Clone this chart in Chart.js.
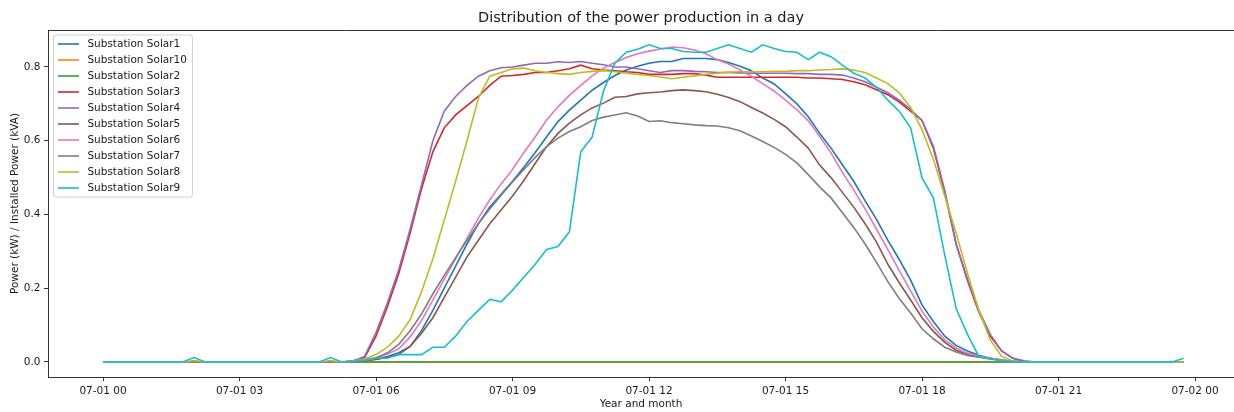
<!DOCTYPE html>
<html><head><meta charset="utf-8">
<script src="https://cdn.jsdelivr.net/npm/chart.js@4.4.1/dist/chart.umd.min.js"></script>
<style>html,body{margin:0;padding:0;background:#fff}#wrap{width:1234px;height:412px}</style>
</head><body><div id="wrap"><canvas id="c" width="1234" height="412"></canvas></div>
<script>
const seriesNames = ["Substation Solar1","Substation Solar10","Substation Solar2","Substation Solar3","Substation Solar4","Substation Solar5","Substation Solar6","Substation Solar7","Substation Solar8","Substation Solar9"];
const seriesColors = ["#1f77b4","#ff7f0e","#2ca02c","#d62728","#9467bd","#8c564b","#e377c2","#7f7f7f","#bcbd22","#17becf"];
// 15-minute slots of 2023-07-01, in hours since midnight
const slotHours = Array.from({length:96},(_,i)=>i*0.25);
const xTickHours = [0,3,6,9,12,15,18,21,24];
const yTickValues = [0,0.2,0.4,0.6,0.8];

const solar1 = [0,0,0,0,0,0,0,0,0,0,0,0,0,0,0,0,0,0,0,0,0,
0,0.001,0.004,0.008,0.015,0.025,0.042,0.085,0.14,0.2,
0.26,0.32,0.375,0.42,0.455,0.49,0.528,0.568,0.611,0.652,
0.683,0.71,0.737,0.758,0.777,0.792,0.802,0.81,0.815,0.815,
0.823,0.823,0.823,0.82,0.812,0.802,0.79,0.77,0.754,0.728,
0.7,0.665,0.62,0.58,0.535,0.49,0.437,0.387,0.33,0.278,
0.222,0.155,0.11,0.07,0.045,0.03,0.018,0.01,0.005,0.001,
0,0,
0,0,0,0,0,0,0,0,0,0,0,0,0];
const solar10 = [0,0,0,0,0,0,0,0,0,0,0,0,0,0,0,0,0,0,0,0,0,0,0,0,0,0,0,0,0,0,0,0,0,0,0,0,0,0,0,0,0,0,0,0,0,0,0,0,
0,0,0,0,0,0,0,0,0,0,0,0,0,0,0,0,0,0,0,0,0,0,0,0,0,0,0,0,0,0,0,0,0,0,0,0,0,0,0,0,0,0,0,0,0,0,0,0];
const solar2 = [0,0,0,0,0,0,0,0,0,0,0,0,0,0,0,0,0,0,0,0,0,0,0,0,0,0,0,0,0,0,0,0,0,0,0,0,0,0,0,0,0,0,0,0,0,0,0,0,
0,0,0,0,0,0,0,0,0,0,0,0,0,0,0,0,0,0,0,0,0,0,0,0,0,0,0,0,0,0,0,0,0,0,0,0,0,0,0,0,0,0,0,0,0,0,0,0];
const solar3 = [0,0,0,0,0,0,0,0,0,0,0,0,0,0,0,0,0,0,0,0,0,
0,0.003,0.012,0.07,0.15,0.24,0.35,0.47,0.57,0.635,
0.67,0.695,0.72,0.75,0.775,0.777,0.78,0.785,0.785,0.79,
0.795,0.805,0.795,0.792,0.79,0.787,0.785,0.78,0.78,0.78,
0.782,0.782,0.778,0.772,0.772,0.772,0.772,0.772,0.772,0.772,
0.772,0.77,0.77,0.768,0.766,0.76,0.752,0.738,0.725,0.705,
0.68,0.655,0.58,0.46,0.32,0.22,0.135,0.07,0.03,0.01,
0,0,
0,0,0,0,0,0,0,0,0,0,0,0,0];
const solar4 = [0,0,0,0,0,0,0,0,0,0,0,0,0,0,0,0,0,0,0,0,0,
0,0.003,0.015,0.08,0.16,0.25,0.36,0.48,0.6,0.68,
0.72,0.75,0.775,0.79,0.798,0.8,0.805,0.81,0.81,0.814,
0.812,0.815,0.81,0.806,0.8,0.8,0.795,0.79,0.785,0.79,
0.79,0.788,0.787,0.785,0.785,0.784,0.783,0.783,0.783,0.783,
0.782,0.782,0.78,0.78,0.778,0.77,0.76,0.745,0.73,0.71,
0.685,0.655,0.585,0.465,0.32,0.225,0.14,0.075,0.03,0.01,
0.003,0,
0,0,0,0,0,0,0,0,0,0,0,0,0];
const solar5 = [0,0,0,0,0,0,0,0,0,0,0,0,0,0,0,0,0,0,0,0,0,
0,0.001,0.003,0.007,0.012,0.02,0.042,0.078,0.12,0.175,
0.23,0.285,0.33,0.375,0.412,0.45,0.492,0.539,0.584,0.62,
0.648,0.67,0.689,0.702,0.718,0.72,0.727,0.73,0.732,0.736,
0.738,0.736,0.733,0.726,0.717,0.706,0.69,0.675,0.658,0.638,
0.61,0.58,0.534,0.5,0.46,0.42,0.375,0.325,0.265,0.215,
0.168,0.12,0.083,0.053,0.032,0.02,0.014,0.01,0.005,0.001,
0,0,
0,0,0,0,0,0,0,0,0,0,0,0,0];
const solar6 = [0,0,0,0,0,0,0,0,0,0,0,0,0,0,0,0,0,0,0,0,0,
0,0.002,0.006,0.012,0.022,0.036,0.068,0.112,0.168,0.225,
0.28,0.335,0.39,0.44,0.483,0.522,0.568,0.611,0.656,0.692,
0.723,0.75,0.776,0.797,0.812,0.826,0.836,0.843,0.849,0.854,
0.852,0.846,0.836,0.82,0.808,0.792,0.775,0.755,0.735,0.71,
0.684,0.654,0.612,0.567,0.514,0.466,0.415,0.36,0.305,0.248,
0.193,0.138,0.095,0.06,0.038,0.024,0.016,0.01,0.005,0.001,
0,0,
0,0,0,0,0,0,0,0,0,0,0,0,0];
const solar7 = [0,0,0,0,0,0,0,0,0,0,0,0,0,0,0,0,0,0,0,0,0,
0,0.001,0.004,0.01,0.025,0.048,0.085,0.13,0.185,0.235,
0.283,0.33,0.375,0.415,0.452,0.488,0.522,0.555,0.584,0.607,
0.625,0.638,0.655,0.664,0.67,0.676,0.667,0.652,0.654,0.649,
0.646,0.643,0.641,0.64,0.635,0.627,0.613,0.598,0.582,0.563,
0.54,0.508,0.475,0.445,0.405,0.365,0.32,0.27,0.218,0.172,
0.133,0.09,0.063,0.04,0.027,0.018,0.013,0.008,0.004,0.001,
0,0,
0,0,0,0,0,0,0,0,0,0,0,0,0];
const solar8 = [0,0,0,0,0,0,0,0,0.004,0,0,0,0,0,0,0,0,0,0,0,0.004,
0,0.002,0.008,0.02,0.04,0.07,0.115,0.19,0.28,0.385,
0.49,0.6,0.715,0.775,0.785,0.795,0.797,0.79,0.785,0.782,
0.78,0.785,0.788,0.79,0.787,0.783,0.78,0.777,0.773,0.768,
0.772,0.776,0.78,0.783,0.786,0.787,0.787,0.787,0.788,0.788,
0.79,0.79,0.792,0.793,0.795,0.792,0.785,0.77,0.755,0.73,
0.69,0.63,0.55,0.45,0.35,0.24,0.14,0.06,0.015,0.003,
0,0,
0,0,0,0,0,0,0,0,0,0,0,0,0];
const solar9 = [0,0,0,0,0,0,0,0,0.012,0,0,0,0,0,0,0,0,0,0,0,0.012,
0,0.002,0.005,0.01,0.01,0.02,0.02,0.02,0.04,0.04,
0.07,0.11,0.14,0.17,0.163,0.195,0.23,0.265,0.305,0.313,
0.353,0.57,0.61,0.735,0.81,0.84,0.848,0.86,0.85,0.85,
0.842,0.84,0.84,0.85,0.86,0.85,0.84,0.86,0.85,0.842,
0.84,0.82,0.84,0.828,0.805,0.783,0.77,0.745,0.71,0.68,
0.635,0.5,0.445,0.29,0.145,0.075,0.015,0.008,0.004,0.002,
0,0,
0,0,0,0,0,0,0,0,0,0,0,0,0.01];

const seriesValues = [solar1, solar10, solar2, solar3, solar4, solar5, solar6, solar7, solar8, solar9];

const FONT = "'DejaVu Sans', sans-serif";
const TXT = '#1a1a1a';
const AX = '#333';

const datasets = seriesNames.map((name, k) => ({
  label: name,
  data: slotHours.map((h, i) => ({x: h, y: seriesValues[k][i]})),
  borderColor: seriesColors[k],
  backgroundColor: seriesColors[k],
  borderWidth: 1.6,
  pointRadius: 0,
  tension: 0,
  fill: false,
  order: seriesNames.length - k
}));

const pad2 = n => (n < 10 ? '0' : '') + n;

const framePlugin = {
  id: 'frame',
  afterDraw(chart) {
    const {ctx, chartArea: a} = chart;
    ctx.save();
    ctx.strokeStyle = AX; ctx.lineWidth = 1;
    ctx.beginPath();
    ctx.moveTo(a.left, Math.round(a.top) + 0.5);
    ctx.lineTo(a.right, Math.round(a.top) + 0.5);
    ctx.stroke();
    ctx.restore();
  },
  afterDatasetsDraw(chart) {
    const {ctx, chartArea: a} = chart;
    const fs = 10.5;
    ctx.save();
    ctx.font = fs + 'px ' + FONT;
    let maxW = 0;
    seriesNames.forEach(n => { maxW = Math.max(maxW, ctx.measureText(n).width); });
    const bx = a.left + 5.5, by = a.top + 5;
    const padIn = 4.5, handle = 21, gap = 8.4, rowH = 16;
    const bw = padIn + handle + gap + maxW + padIn + 1;
    const bh = rowH * (seriesNames.length - 1) + 18;
    const r = 3;
    ctx.beginPath();
    ctx.moveTo(bx + r, by);
    ctx.arcTo(bx + bw, by, bx + bw, by + bh, r);
    ctx.arcTo(bx + bw, by + bh, bx, by + bh, r);
    ctx.arcTo(bx, by + bh, bx, by, r);
    ctx.arcTo(bx, by, bx + bw, by, r);
    ctx.closePath();
    ctx.fillStyle = 'rgba(255,255,255,0.8)';
    ctx.fill();
    ctx.strokeStyle = '#d0d0d0'; ctx.lineWidth = 1;
    ctx.stroke();
    ctx.textBaseline = 'middle';
    seriesNames.forEach((n, k) => {
      const cy = by + 9 + rowH * k;
      ctx.strokeStyle = seriesColors[k]; ctx.lineWidth = 1.6;
      ctx.beginPath();
      ctx.moveTo(bx + padIn, cy); ctx.lineTo(bx + padIn + handle, cy);
      ctx.stroke();
      ctx.fillStyle = TXT;
      ctx.fillText(n, bx + padIn + handle + gap, cy + 0.5);
    });
    ctx.restore();
  }
};

new Chart(document.getElementById('c'), {
  type: 'line',
  data: {datasets},
  options: {
    responsive: false,
    animation: false,
    devicePixelRatio: 1,
    layout: {padding: {left: 0, right: 0, top: 0, bottom: 0}},
    plugins: {
      legend: {display: false},
      tooltip: {enabled: false},
      title: {
        display: true,
        text: 'Distribution of the power production in a day',
        fullSize: false,
        color: TXT,
        font: {family: FONT, size: 14.5, weight: 'normal', lineHeight: 1.2},
        padding: {top: 9.5, bottom: 3.1}
      }
    },
    scales: {
      x: {
        type: 'linear',
        min: -1.2088,
        max: 24.857,
        afterBuildTicks: s => { s.ticks = xTickHours.map(v => ({value: v})); },
        afterFit: s => { s.height = 35; },
        ticks: {
          autoSkip: false, maxRotation: 0, padding: 3.5, color: TXT,
          font: {family: FONT, size: 10.5},
          callback: v => (v >= 24 ? '07-02 ' + pad2(v - 24) : '07-01 ' + pad2(v))
        },
        grid: {drawOnChartArea: false, drawTicks: true, tickLength: 4, color: AX, tickColor: AX},
        border: {display: true, color: AX, width: 1},
        title: {display: true, text: 'Year and month', color: TXT,
          font: {family: FONT, size: 10.5, lineHeight: 1.2}, padding: {top: 0, bottom: 1}}
      },
      y: {
        type: 'linear',
        min: -0.0407,
        max: 0.9003,
        afterBuildTicks: s => { s.ticks = yTickValues.map(v => ({value: v})); },
        afterFit: s => { s.width = 48; },
        ticks: {
          padding: 3.5, color: TXT,
          font: {family: FONT, size: 10.5},
          callback: v => v.toFixed(1)
        },
        grid: {drawOnChartArea: false, drawTicks: true, tickLength: 4, color: AX, tickColor: AX},
        border: {display: true, color: AX, width: 1},
        title: {display: true, text: 'Power (kW) / Installed Power (kVA)', color: TXT,
          font: {family: FONT, size: 10.5, lineHeight: 1.2}, padding: {top: 8.7, bottom: 0}}
      }
    }
  },
  plugins: [framePlugin]
});
</script></body></html>
